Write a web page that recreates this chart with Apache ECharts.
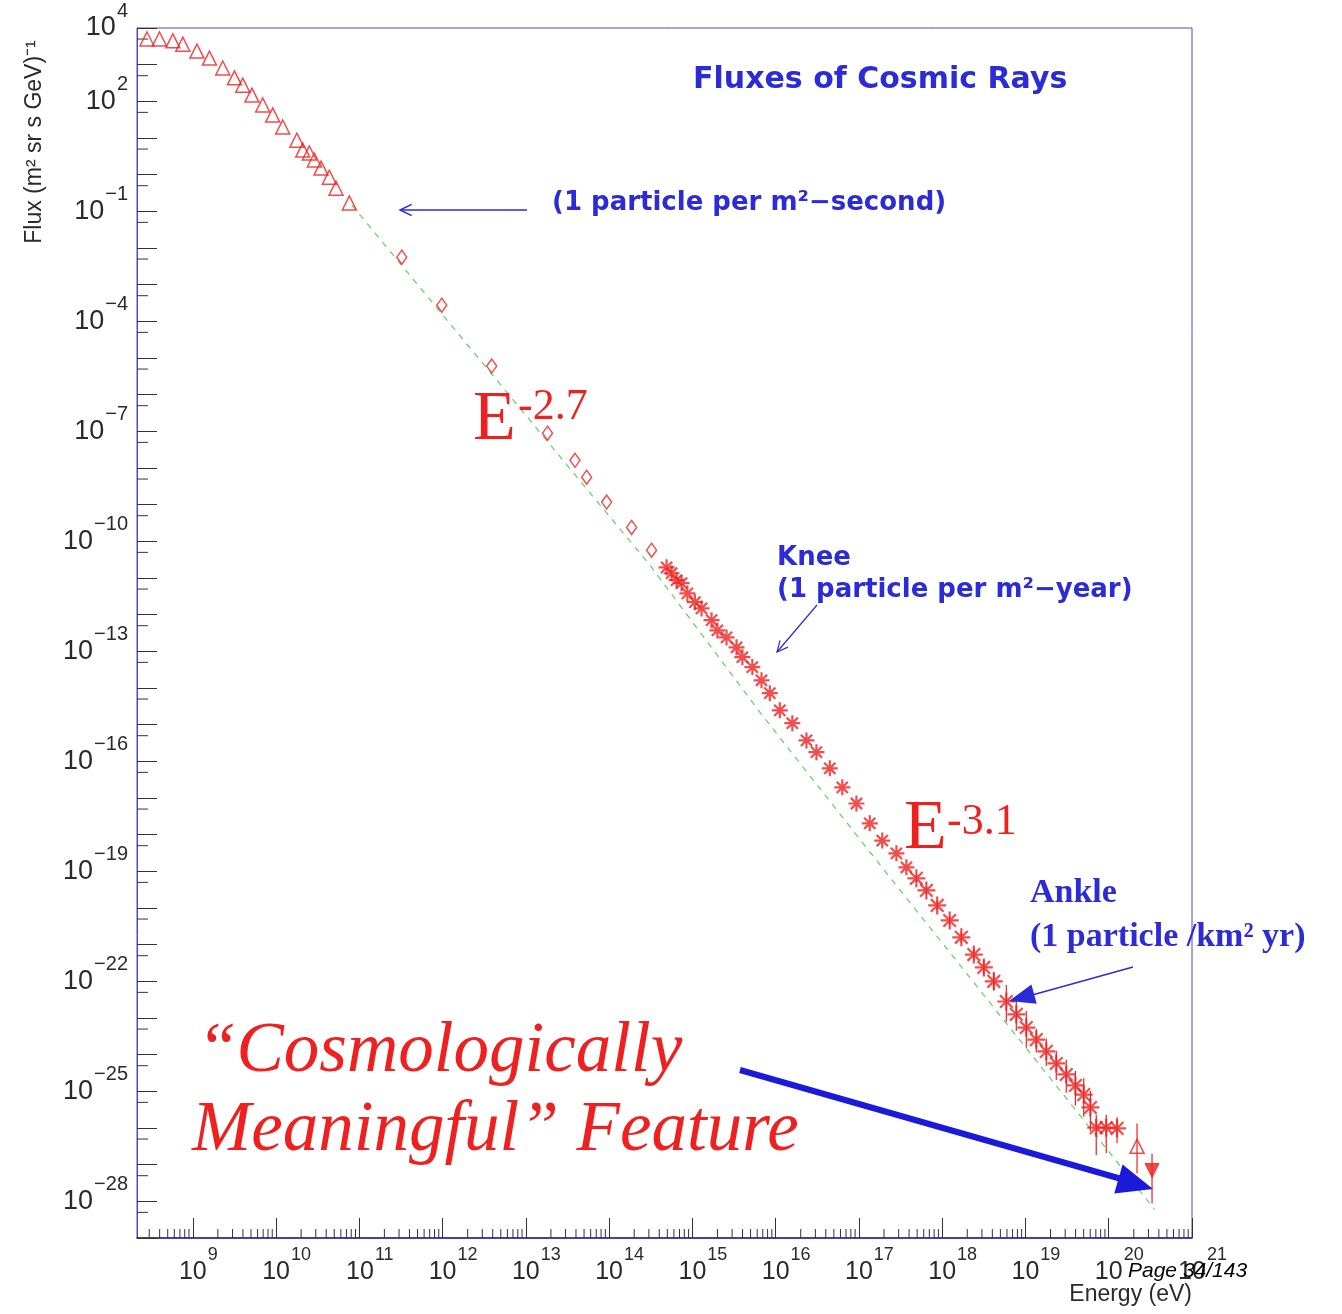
<!DOCTYPE html>
<html><head><meta charset="utf-8">
<script src="https://cdn.jsdelivr.net/npm/echarts@6/dist/echarts.min.js"></script>
<style>html,body{margin:0;padding:0;background:#fff}#c{width:1342px;height:1314px}</style>
</head><body><div id="c"></div>
<script>
// ---- Data: all values are log10(Energy/eV) and log10(Flux) ----
const triangleLogE    = [8.45, 8.60, 8.76, 8.88, 9.05, 9.20, 9.36, 9.50, 9.60, 9.71, 9.84, 9.96, 10.08, 10.25, 10.32, 10.40, 10.46, 10.54, 10.64, 10.72, 10.88];
const triangleLogFlux = [3.70, 3.70, 3.65, 3.56, 3.37, 3.18, 2.91, 2.64, 2.44, 2.17, 1.90, 1.63, 1.30, 0.94, 0.67, 0.59, 0.40, 0.18, -0.07, -0.37, -0.77];

const diamondLogE    = [11.51, 11.99, 12.59, 13.26, 13.59, 13.73, 13.97, 14.27, 14.51];
const diamondLogFlux = [-2.25, -3.56, -5.22, -7.05, -7.79, -8.25, -8.93, -9.62, -10.24];

const starLogE    = [14.69, 14.75, 14.81, 14.87, 14.94, 15.03, 15.11, 15.23, 15.30, 15.41, 15.53, 15.60, 15.72, 15.83, 15.93, 16.05, 16.20, 16.37, 16.49, 16.65, 16.80, 16.97, 17.13, 17.28, 17.45, 17.57];
const starLogFlux = [-10.71, -10.87, -11.06, -11.14, -11.42, -11.66, -11.83, -12.15, -12.43, -12.62, -12.89, -13.16, -13.43, -13.79, -14.14, -14.61, -14.96, -15.43, -15.75, -16.19, -16.71, -17.15, -17.69, -18.16, -18.51, -18.89];

const uheLogE    = [17.69, 17.81, 17.94, 18.09, 18.23, 18.38, 18.50, 18.62, 18.77, 18.89, 19.01, 19.13, 19.25, 19.37, 19.49, 19.60, 19.70, 19.78, 19.85, 19.97, 20.10];
const uheLogFlux = [-19.19, -19.52, -19.93, -20.34, -20.80, -21.27, -21.62, -22.00, -22.55, -22.90, -23.26, -23.59, -23.91, -24.24, -24.54, -24.84, -25.09, -25.44, -25.99, -25.99, -26.01];
const uheErrLow  = [0.10, 0.10, 0.12, 0.12, 0.15, 0.15, 0.20, 0.25, 0.55, 0.45, 0.55, 0.35, 0.40, 0.45, 0.50, 0.55, 0.60, 0.65, 0.75, 0.70, 0.40];
const uheErrHigh = [0.10, 0.10, 0.12, 0.12, 0.15, 0.15, 0.20, 0.25, 0.45, 0.40, 0.45, 0.30, 0.35, 0.35, 0.40, 0.40, 0.45, 0.45, 0.35, 0.35, 0.30];

const openTriLogE = [20.34], openTriLogFlux = [-26.50], openTriLow = [-27.24], openTriHigh = [-25.88];
const downTriLogE = [20.52], downTriLogFlux = [-27.16], downTriLow = [-28.06], downTriHigh = [-26.70];

const fitLogE    = [10.91, 14.49, 15.81, 17.37, 20.01, 20.55];
const fitLogFlux = [-0.83, -10.65, -14.66, -19.16, -26.67, -28.22];

const xLabelExps = [9, 10, 11, 12, 13, 14, 15, 16, 17, 18, 19, 20, 21];
const yLabelExps = [4, 2, -1, -4, -7, -10, -13, -16, -19, -22, -25, -28];
const X_MIN = 8.33, X_MAX = 21, Y_MIN = -29, Y_MAX = 4;

// ---- helpers ----
const pairs = (xs, ys) => xs.map((x, i) => [x, ys[i]]);
const RED = '#ee2020', BLUE = '#2b2bd8', TXT = '#2a2a2a';

const xMinorTicks = [];
for (let n = 8; n < 21; n++) for (let k = 2; k <= 9; k++) {
  const v = n + Math.log10(k);
  if (v > X_MIN && v < X_MAX) xMinorTicks.push([v, Y_MIN]);
}
const yMidTicks = [];
for (let n = Y_MIN + 1; n <= Y_MAX; n++) yMidTicks.push([X_MIN, n - Math.log10(2)]);

const uheErr = uheLogE.map((e, i) => [e, uheLogFlux[i] - uheErrLow[i], uheLogFlux[i] + uheErrHigh[i]]);
const extraErr = [[openTriLogE[0], openTriLow[0], openTriHigh[0]], [downTriLogE[0], downTriLow[0], downTriHigh[0]]];

const starPath = 'path://M0,-6L0,6M-6,0L6,0M-4.2,-4.2L4.2,4.2M-4.2,4.2L4.2,-4.2';

function txt(x, y, text, font, fill, align, extra) {
  return Object.assign({ type: 'text', x, y, z: 100,
    style: { text, font, fill, align: align || 'left', textAlign: align || 'left', verticalAlign: 'middle', textVerticalAlign: 'middle' } }, extra || {});
}
function line(x1, y1, x2, y2, stroke, w) {
  return { type: 'line', z: 100, shape: { x1, y1, x2, y2 }, style: { stroke, lineWidth: w } };
}
function vHead(x1, y1, x2, y2, len, ang, stroke, w) {
  const a = Math.atan2(y1 - y2, x1 - x2);
  const p1 = [x2 + len * Math.cos(a + ang), y2 + len * Math.sin(a + ang)];
  const p2 = [x2 + len * Math.cos(a - ang), y2 + len * Math.sin(a - ang)];
  return { type: 'polyline', z: 100, shape: { points: [p1, [x2, y2], p2] }, style: { stroke, lineWidth: w, fill: null } };
}
function fHead(x1, y1, x2, y2, len, half, fill) {
  const d = Math.hypot(x2 - x1, y2 - y1), ux = (x2 - x1) / d, uy = (y2 - y1) / d;
  const bx = x2 - len * ux, by = y2 - len * uy;
  return { type: 'polygon', z: 101, shape: { points: [[x2, y2], [bx - half * uy, by + half * ux], [bx + half * uy, by - half * ux]] }, style: { fill } };
}

const chart = echarts.init(document.getElementById('c'), null, { renderer: 'canvas' });

const option = {
  backgroundColor: '#fff',
  animation: false,
  grid: { left: 137, right: 150, top: 28, bottom: 76, show: true, borderColor: '#4a4ad0', borderWidth: 1 },
  xAxis: {
    type: 'value', min: X_MIN, max: X_MAX, minInterval: 1, maxInterval: 1, splitNumber: 13,
    axisLine: { show: true, onZero: false, lineStyle: { color: '#2020a0', width: 1.5 } },
    axisTick: { show: true, inside: true, length: 20, lineStyle: { color: '#333', width: 1 } },
    splitLine: { show: false },
    axisLabel: {
      margin: 8, showMinLabel: false,
      formatter: v => {
        const r = Math.round(v);
        if (Math.abs(v - r) > 1e-6 || xLabelExps.indexOf(r) < 0) return '';
        const s = String(r);
        return '{p' + s.length + '|}{b|10}{e|' + s + '}';
      },
      rich: {
        b: { fontSize: 25, fontFamily: 'Liberation Sans', color: TXT },
        e: { fontSize: 18, fontFamily: 'Liberation Sans', color: TXT, padding: [0, 0, 34, 1] },
        p1: { width: 11 }, p2: { width: 21 }
      }
    }
  },
  yAxis: {
    type: 'value', min: Y_MIN, max: Y_MAX, interval: 1,
    axisLine: { show: true, onZero: false, lineStyle: { color: '#4848d0', width: 1 } },
    axisTick: { show: true, inside: true, length: 20, lineStyle: { color: '#333', width: 1 } },
    splitLine: { show: false },
    axisLabel: {
      margin: 9,
      formatter: v => {
        const r = Math.round(v);
        if (Math.abs(v - r) > 1e-6 || yLabelExps.indexOf(r) < 0) return '';
        return '{b|10}{e|' + (r < 0 ? '\u2212' + (-r) : String(r)) + '}';
      },
      rich: {
        b: { fontSize: 27, fontFamily: 'Liberation Sans', color: TXT },
        e: { fontSize: 20, fontFamily: 'Liberation Sans', color: TXT, padding: [0, 0, 34, 1] }
      }
    }
  },
  series: [
    { type: 'custom', name: 'xMinor', silent: true, data: xMinorTicks, encode: { x: 0, y: 1 },
      renderItem: (p, api) => { const c = api.coord([api.value(0), api.value(1)]);
        return { type: 'line', shape: { x1: c[0], y1: c[1], x2: c[0], y2: c[1] - 9 }, style: { stroke: '#333', lineWidth: 1 } }; } },
    { type: 'custom', name: 'yMinor', silent: true, data: yMidTicks, encode: { x: 0, y: 1 },
      renderItem: (p, api) => { const c = api.coord([api.value(0), api.value(1)]);
        return { type: 'line', shape: { x1: c[0], y1: c[1], x2: c[0] + 11, y2: c[1] }, style: { stroke: '#333', lineWidth: 1 } }; } },
    { type: 'line', name: 'fit', data: pairs(fitLogE, fitLogFlux), symbol: 'none', z: 1,
      lineStyle: { color: '#5fd35f', width: 1.2, type: [6, 6] } },
    { type: 'custom', name: 'errors', z: 3, data: uheErr.concat(extraErr), encode: { x: 0, y: [1, 2] },
      renderItem: (p, api) => { const a = api.coord([api.value(0), api.value(1)]), b = api.coord([api.value(0), api.value(2)]);
        return { type: 'line', shape: { x1: a[0], y1: a[1], x2: b[0], y2: b[1] }, style: { stroke: RED, lineWidth: 1.2 } }; } },
    { type: 'scatter', name: 'triangles', data: pairs(triangleLogE, triangleLogFlux), symbol: 'triangle', symbolSize: 14,
      itemStyle: { color: 'rgba(0,0,0,0)', borderColor: RED, borderWidth: 1.5 }, z: 4 },
    { type: 'scatter', name: 'diamonds', data: pairs(diamondLogE, diamondLogFlux), symbol: 'diamond', symbolSize: [10, 14],
      itemStyle: { color: 'rgba(0,0,0,0)', borderColor: RED, borderWidth: 1.5 }, z: 4 },
    { type: 'scatter', name: 'stars', data: pairs(starLogE, starLogFlux), symbol: starPath, symbolSize: 16,
      itemStyle: { color: RED, borderColor: RED, borderWidth: 2.2 }, z: 4 },
    { type: 'scatter', name: 'uhe', data: pairs(uheLogE, uheLogFlux), symbol: starPath, symbolSize: 18,
      itemStyle: { color: RED, borderColor: RED, borderWidth: 2.2 }, z: 4 },
    { type: 'scatter', name: 'uheOpen', data: pairs(openTriLogE, openTriLogFlux), symbol: 'triangle', symbolSize: 14,
      itemStyle: { color: 'rgba(0,0,0,0)', borderColor: RED, borderWidth: 1.5 }, z: 4 },
    { type: 'scatter', name: 'uheFilled', data: pairs(downTriLogE, downTriLogFlux), symbol: 'triangle', symbolRotate: 180, symbolSize: 14,
      itemStyle: { color: RED, borderColor: RED, borderWidth: 1 }, z: 4 }
  ],
  graphic: [
    txt(35, 142, 'Flux (m\u00b2 sr s GeV)\u207b\u00b9', '23px "Liberation Sans"', TXT, 'center', { rotation: Math.PI / 2 }),
    txt(1192, 1295, 'Energy (eV)', '23px "Liberation Sans"', TXT, 'right'),
    txt(1128, 1271, 'Page 34/143', 'italic 21px "Liberation Sans"', '#000', 'left'),
    txt(693, 80, 'Fluxes of Cosmic Rays', 'bold 30px "DejaVu Sans"', BLUE, 'left'),
    txt(552, 203, '(1 particle per m\u00b2\u2212second)', 'bold 26px "DejaVu Sans"', BLUE, 'left'),
    line(527, 210, 401, 210, BLUE, 1.5), vHead(527, 210, 400, 210, 13, 0.45, BLUE, 1.5),
    txt(777, 558, 'Knee', 'bold 26px "DejaVu Sans"', BLUE, 'left'),
    txt(777, 590, '(1 particle per m\u00b2\u2212year)', 'bold 26px "DejaVu Sans"', BLUE, 'left'),
    line(817, 605, 777, 652, BLUE, 1.2), vHead(817, 605, 777, 652, 12, 0.45, BLUE, 1.2),
    txt(473, 421, 'E', '70px "Liberation Serif"', RED, 'left'),
    txt(518, 407, '-2.7', '44px "Liberation Serif"', RED, 'left'),
    txt(904, 830, 'E', '70px "Liberation Serif"', RED, 'left'),
    txt(947, 822, '-3.1', '44px "Liberation Serif"', RED, 'left'),
    txt(1030, 893, 'Ankle', 'bold 34px "Liberation Serif"', BLUE, 'left'),
    txt(1030, 937, '(1 particle /km\u00b2 yr)', 'bold 34px "Liberation Serif"', BLUE, 'left'),
    line(1133, 967, 1025, 997, BLUE, 1.5), fHead(1133, 967, 1009, 1001, 26, 10, BLUE),
    txt(197, 1052, '\u201cCosmologically', 'italic 71px "Liberation Serif"', RED, 'left'),
    txt(192, 1131, 'Meaningful\u201d Feature', 'italic 71px "Liberation Serif"', RED, 'left'),
    line(740, 1070, 1125, 1180, '#1a1ad8', 6), fHead(740, 1070, 1153, 1189, 36, 15, '#1a1ad8')
  ]
};
chart.setOption(option);
</script></body></html>
